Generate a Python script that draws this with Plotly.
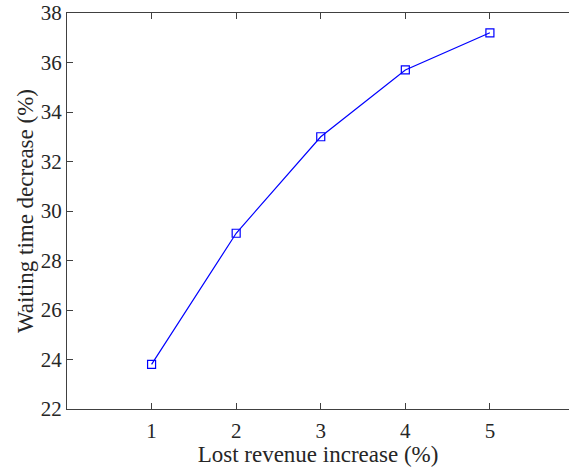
import plotly.graph_objects as go

x_vals = [1, 2, 3, 4, 5]
y_vals = [23.8, 29.1, 33.0, 35.7, 37.2]
x_ticks = [1, 2, 3, 4, 5]
y_ticks = [22, 24, 26, 28, 30, 32, 34, 36, 38]

fig = go.Figure()
fig.add_trace(go.Scatter(
    x=x_vals, y=y_vals, mode="lines+markers",
    line=dict(color="#0000ff", width=1.2),
    marker=dict(symbol="square-open", size=8, color="#0000ff", line=dict(width=1.2)),
    showlegend=False,
))

font = dict(family="Liberation Serif", color="#262626")
fig.update_layout(
    width=569, height=467,
    margin=dict(l=67, r=0, t=13, b=58),
    paper_bgcolor="white", plot_bgcolor="white",
    font=dict(size=20, **font),
)
fig.update_xaxes(
    range=[0, 5.935], tickvals=x_ticks, ticks="inside", ticklen=6, tickcolor="#404040",
    showline=True, linecolor="#404040", linewidth=1, mirror="ticks",
    showgrid=False, zeroline=False, ticklabelstandoff=3,
    tickfont=dict(size=21, **font),
    title=dict(text="Lost revenue increase (%)", font=dict(size=23, **font), standoff=2),
)
fig.update_yaxes(
    range=[22, 38], tickvals=y_ticks, ticks="inside", ticklen=6, tickcolor="#404040",
    showline=True, linecolor="#404040", linewidth=1, mirror=False,
    showgrid=False, zeroline=False,
    tickfont=dict(size=21, **font),
    title=dict(text="Waiting time decrease (%)", font=dict(size=23, **font), standoff=0),
)
fig.write_html("out.html")
